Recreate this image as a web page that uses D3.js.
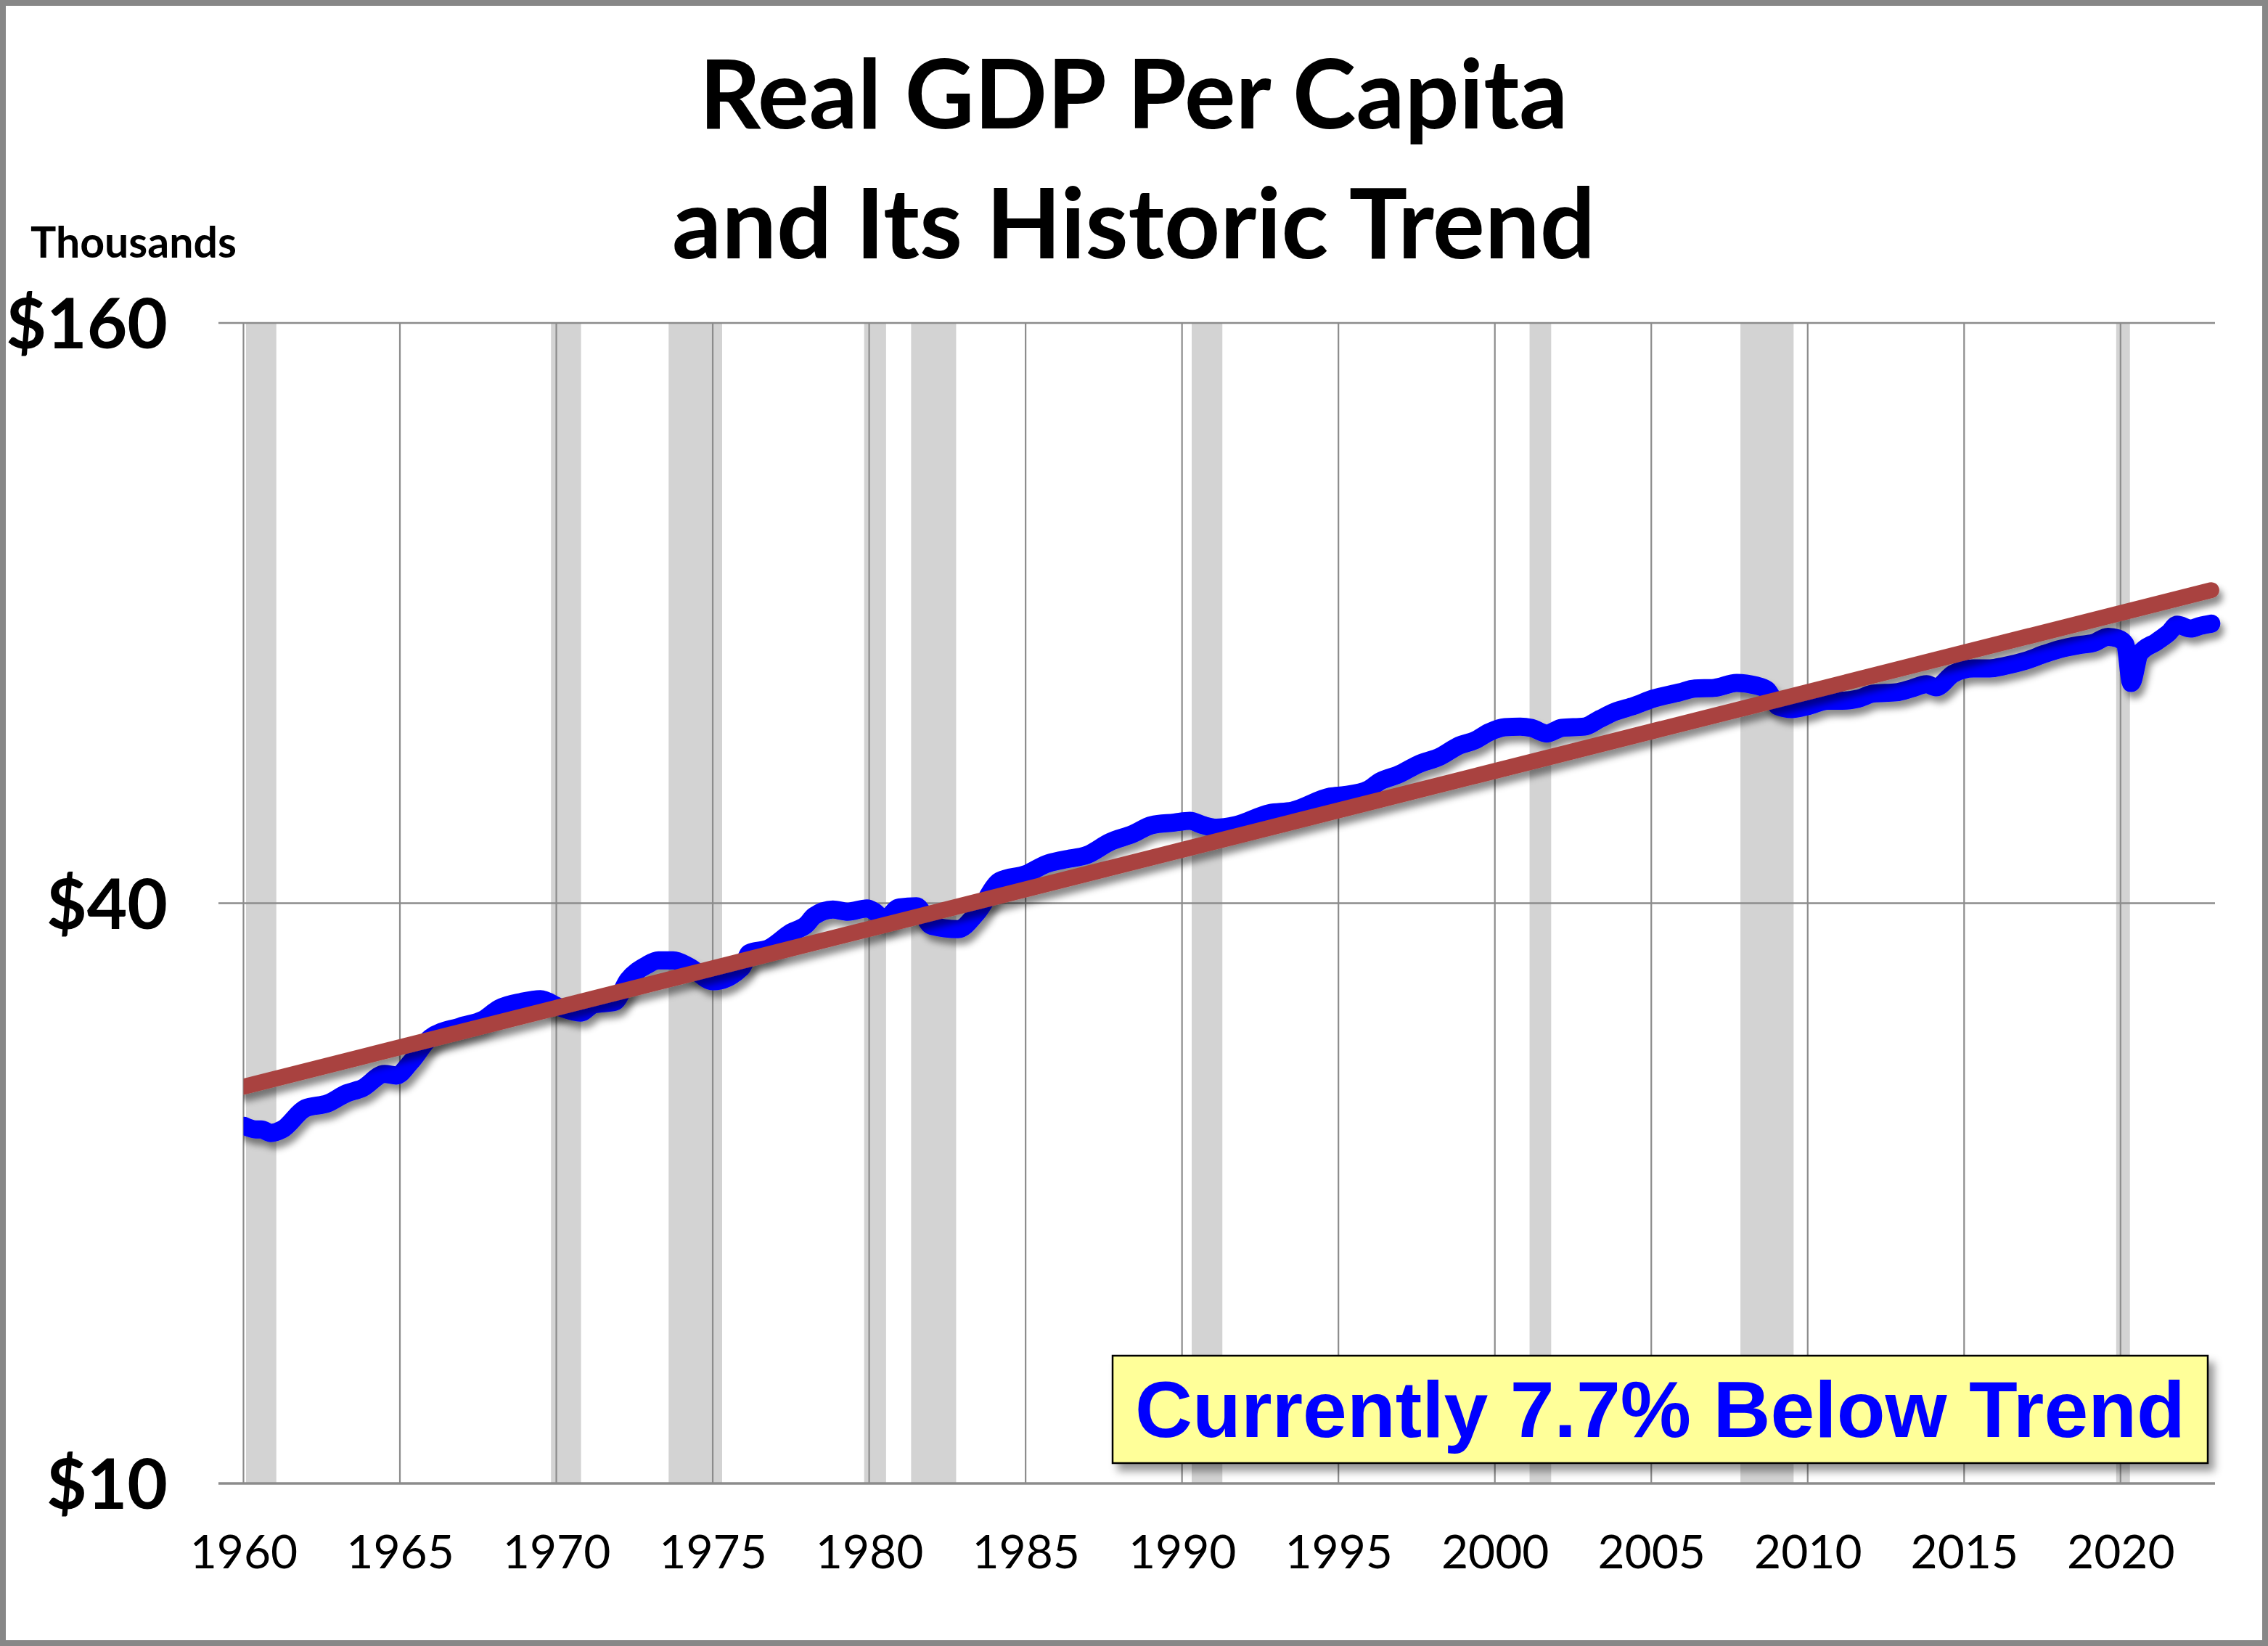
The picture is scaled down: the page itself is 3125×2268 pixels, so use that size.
<!DOCTYPE html>
<html>
<head>
<meta charset="utf-8">
<script src="https://cdn.jsdelivr.net/npm/d3@7"></script>
<style>
  html, body { margin: 0; padding: 0; background: #fff; }
  svg { display: block; }
</style>
</head>
<body>
<div id="chart"></div>
<script>
//---------------------------------------------------------------------
// Real GDP per capita vs. its historic (log-linear) trend
//---------------------------------------------------------------------

// GDP per capita, thousands of dollars
var gdpYears = [
  1960.02, 1960.39, 1960.57, 1960.87, 1961.24, 1961.97, 1962.70, 1963.30, 1963.79, 1964.51,
  1964.88, 1965.36, 1965.97, 1966.94, 1967.67, 1968.16, 1968.89, 1969.49, 1970.10, 1970.77,
  1971.19, 1971.86, 1972.29, 1972.89, 1973.26, 1973.74, 1974.23, 1975.02, 1975.93, 1976.17,
  1976.78, 1977.50, 1977.99, 1978.24, 1978.84, 1979.32, 1979.93, 1980.17, 1980.48, 1980.96,
  1981.51, 1981.99, 1982.84, 1983.45, 1984.18, 1985.03, 1985.64, 1986.24, 1986.97, 1987.70,
  1988.43, 1989.03, 1989.76, 1990.25, 1990.67, 1991.10, 1991.71, 1992.80, 1993.53, 1994.74,
  1995.23, 1995.96, 1996.32, 1996.92, 1997.53, 1998.26, 1998.86, 1999.35, 1999.83, 2000.32,
  2000.81, 2001.17, 2001.66, 2002.14, 2002.87, 2003.35, 2003.84, 2004.45, 2005.05, 2005.91,
  2006.39, 2007.00, 2007.73, 2008.33, 2008.70, 2009.06, 2009.49, 2010.04, 2010.64, 2011.13,
  2011.61, 2012.10, 2012.83, 2013.31, 2013.80, 2014.10, 2014.65, 2015.30, 2015.82, 2016.28,
  2016.97, 2017.59, 2018.06, 2018.67, 2019.14, 2019.60, 2019.91, 2020.15, 2020.34, 2020.61,
  2021.15, 2021.54, 2021.81, 2022.24, 2022.55, 2022.90
];
var gdpValues = [
  23.5, 23.3, 23.3, 23.1, 23.3, 24.5, 24.8, 25.4, 25.7, 26.6,
  26.5, 27.4, 29.0, 29.8, 30.3, 31.1, 31.6, 31.8, 31.2, 30.8,
  31.4, 31.6, 33.3, 34.5, 34.9, 34.9, 34.4, 33.2, 34.3, 35.5,
  35.9, 37.3, 38.0, 38.8, 39.4, 39.2, 39.5, 39.2, 38.5, 39.6,
  39.7, 37.9, 37.6, 39.1, 42.2, 42.9, 43.9, 44.4, 44.9, 46.3,
  47.2, 48.2, 48.5, 48.7, 48.2, 47.9, 48.2, 49.6, 49.9, 51.6,
  51.8, 52.5, 53.5, 54.4, 55.7, 56.8, 58.3, 59.0, 60.2, 60.9,
  61.0, 60.8, 60.0, 60.8, 61.0, 62.1, 63.2, 64.1, 65.2, 66.2,
  66.8, 66.9, 67.7, 67.3, 66.6, 64.0, 63.6, 64.1, 64.9, 64.9,
  65.2, 66.0, 66.2, 66.8, 67.5, 67.0, 69.2, 70.1, 70.1, 70.5,
  71.4, 72.6, 73.4, 74.1, 74.5, 75.6, 75.3, 74.3, 67.7, 72.6,
  74.7, 76.3, 77.8, 77.1, 77.6, 78.0
];

// trend line end points (straight on the log axis)
var trendYears = [1960.0, 2022.9];
var trendValues = [25.8, 84.5];

// recessions (shaded bars), start / end in years
var recStart = [1960.08, 1969.83, 1973.59, 1979.84, 1981.34, 1990.31, 2001.11, 2007.85, 2019.86];
var recEnd   = [1961.05, 1970.79, 1975.30, 1980.54, 1982.78, 1991.29, 2001.80, 2009.55, 2020.30];

var xTicks = [1960, 1965, 1970, 1975, 1980, 1985, 1990, 1995, 2000, 2005, 2010, 2015, 2020];
var yTicks = [10, 40, 160];

var titleLines = ["Real GDP Per Capita", "and Its Historic Trend"];
var unitLabel = "Thousands";
var noteText = "Currently 7.7% Below Trend";

//---------------------------------------------------------------------

var W = 3125, H = 2268;
var plot = {left: 301, right: 3052, top: 445, bottom: 2044};

var x = d3.scaleLinear().domain([1959.2, 2023.02]).range([plot.left, plot.right]);
var y = d3.scaleLog().domain([10, 160]).range([plot.bottom, plot.top]);

var svg = d3.select("#chart").append("svg")
  .attr("width", W)
  .attr("height", H);

var defs = svg.append("defs");
var sh = defs.append("filter")
  .attr("id", "shadow")
  .attr("filterUnits", "userSpaceOnUse")
  .attr("x", 0).attr("y", 0).attr("width", W).attr("height", H);
sh.append("feDropShadow")
  .attr("dx", 5).attr("dy", 9)
  .attr("stdDeviation", 5)
  .attr("flood-color", "#000")
  .attr("flood-opacity", 0.45);

defs.append("clipPath").attr("id", "clip")
  .append("rect")
  .attr("x", x(1960))
  .attr("y", 0)
  .attr("width", W - x(1960))
  .attr("height", H);

svg.append("rect")
  .attr("x", 0).attr("y", 0)
  .attr("width", W).attr("height", H)
  .attr("fill", "#fff");

// fit a text element to a target width by scaling its font size
function fitWidth(sel, target) {
  var w = sel.node().getComputedTextLength();
  var fs = parseFloat(sel.attr("font-size"));
  sel.attr("font-size", fs * target / w);
}

// recession shading
svg.append("g").selectAll("rect")
  .data(d3.range(recStart.length))
  .enter()
  .append("rect")
  .attr("x", function(i) { return x(recStart[i]); })
  .attr("y", plot.top)
  .attr("width", function(i) { return x(recEnd[i]) - x(recStart[i]); })
  .attr("height", plot.bottom - plot.top)
  .attr("fill", "#d3d3d3");

// vertical grid
svg.append("g").selectAll("line")
  .data(xTicks)
  .enter()
  .append("line")
  .attr("x1", function(d) { return x(d); })
  .attr("x2", function(d) { return x(d); })
  .attr("y1", plot.top)
  .attr("y2", plot.bottom)
  .attr("stroke", "#8c8c8c")
  .attr("stroke-width", 2.2);

// horizontal grid
svg.append("g").selectAll("line")
  .data(yTicks)
  .enter()
  .append("line")
  .attr("x1", plot.left)
  .attr("x2", plot.right)
  .attr("y1", function(d) { return y(d); })
  .attr("y2", function(d) { return y(d); })
  .attr("stroke", "#8c8c8c")
  .attr("stroke-width", function(d) { return d == 10 ? 3.5 : 2.6; });

// axes
var xAxis = svg.append("g")
  .attr("transform", "translate(0," + plot.bottom + ")")
  .call(d3.axisBottom(x).tickValues(xTicks).tickFormat(d3.format("d")).tickSize(0).tickPadding(0));
xAxis.select(".domain").remove();
xAxis.selectAll("text")
  .attr("y", 117)
  .attr("dy", 0)
  .attr("font-family", "Lato, 'Open Sans', sans-serif")
  .attr("font-size", 64)
  .attr("fill", "#000");

var yAxis = svg.append("g")
  .attr("transform", "translate(" + plot.left + ",0)")
  .call(d3.axisLeft(y).tickValues(yTicks).tickFormat(function(d) { return "$" + d; }).tickSize(0).tickPadding(70));
yAxis.select(".domain").remove();
yAxis.selectAll("text")
  .attr("dy", "0.36em")
  .attr("font-family", "Lato, 'Open Sans', sans-serif")
  .attr("font-weight", 700)
  .attr("font-size", 96)
  .attr("fill", "#000");

// series
var line = d3.line()
  .x(function(i) { return x(gdpYears[i]); })
  .y(function(i) { return y(gdpValues[i]); })
  .curve(d3.curveMonotoneX);

var trendLine = d3.line()
  .x(function(i) { return x(trendYears[i]); })
  .y(function(i) { return y(trendValues[i]); });

var series = svg.append("g").attr("clip-path", "url(#clip)");
series.append("path")
  .attr("d", line(d3.range(gdpYears.length)))
  .attr("fill", "none")
  .attr("stroke", "#0000ff")
  .attr("stroke-width", 25)
  .attr("stroke-linejoin", "round")
  .attr("stroke-linecap", "round")
  .attr("filter", "url(#shadow)");
series.append("path")
  .attr("d", trendLine(d3.range(trendYears.length)))
  .attr("fill", "none")
  .attr("stroke", "#a9433f")
  .attr("stroke-width", 22)
  .attr("stroke-linecap", "round")
  .attr("filter", "url(#shadow)");

// title
svg.append("g").selectAll("text")
  .data(titleLines)
  .enter()
  .append("text")
  .attr("x", 1562)
  .attr("y", function(d, i) { return i ? 356 : 177; })
  .attr("text-anchor", "middle")
  .attr("font-family", "Lato, 'Open Sans', sans-serif")
  .attr("font-weight", 700)
  .attr("font-size", 120)
  .attr("fill", "#000")
  .text(function(d) { return d; })
  .each(function(d, i) { fitWidth(d3.select(this), i ? 1272 : 1197); });

var unit = svg.append("text")
  .attr("x", 42)
  .attr("y", 355)
  .attr("font-family", "Lato, 'Open Sans', sans-serif")
  .attr("font-weight", 700)
  .attr("font-size", 56)
  .attr("fill", "#000")
  .text(unitLabel);
fitWidth(unit, 284);

// note box
var box = {x: 1533, y: 1868, w: 1509, h: 148};
var boxShadow = defs.append("filter")
  .attr("id", "boxshadow")
  .attr("filterUnits", "userSpaceOnUse")
  .attr("x", 0).attr("y", 0).attr("width", W).attr("height", H);
boxShadow.append("feDropShadow")
  .attr("dx", 8).attr("dy", 10)
  .attr("stdDeviation", 6)
  .attr("flood-color", "#000")
  .attr("flood-opacity", 0.4);
svg.append("rect")
  .attr("x", box.x).attr("y", box.y)
  .attr("width", box.w).attr("height", box.h)
  .attr("fill", "#ffff99")
  .attr("stroke", "#000")
  .attr("stroke-width", 2.5)
  .attr("filter", "url(#boxshadow)");
var note = svg.append("text")
  .attr("x", box.x + box.w / 2)
  .attr("y", 1980)
  .attr("text-anchor", "middle")
  .attr("font-family", "'Liberation Sans', Arial, sans-serif")
  .attr("font-weight", 700)
  .attr("font-size", 108)
  .attr("fill", "#0000ff")
  .text(noteText);
fitWidth(note, 1447);

// outer frame
svg.append("rect")
  .attr("x", 4).attr("y", 4)
  .attr("width", W - 8).attr("height", H - 8)
  .attr("fill", "none")
  .attr("stroke", "#878787")
  .attr("stroke-width", 8);
</script>
</body>
</html>
